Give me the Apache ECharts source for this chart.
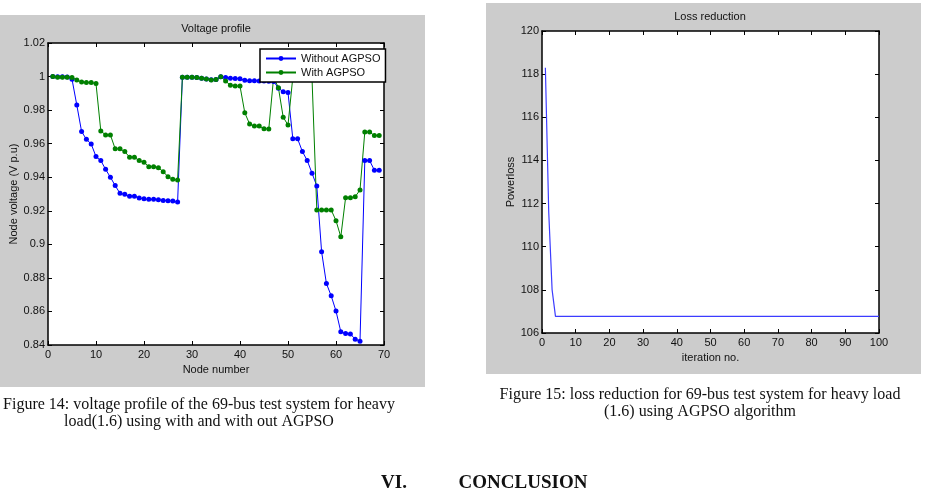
<!DOCTYPE html>
<html>
<head>
<meta charset="utf-8">
<script src="https://cdn.jsdelivr.net/npm/echarts@6/dist/echarts.min.js"></script>
<style>
  html, body { margin: 0; padding: 0; background: #fff; }
  #chart { width: 926px; height: 496px; }
</style>
</head>
<body>
<div id="chart"></div>
<script>
// node numbers of the 69-bus system
const nodes = [1, 2, 3, 4, 5, 6, 7, 8, 9, 10, 11, 12, 13, 14, 15, 16, 17, 18, 19, 20,
  21, 22, 23, 24, 25, 26, 27, 28, 29, 30, 31, 32, 33, 34, 35, 36, 37, 38, 39, 40,
  41, 42, 43, 44, 45, 46, 47, 48, 49, 50, 51, 52, 53, 54, 55, 56, 57, 58, 59, 60,
  61, 62, 63, 64, 65, 66, 67, 68, 69];
// voltage without AGPSO (p.u)
const withoutAgpso = [1.0, 0.9999, 0.9999, 0.9998, 0.9984, 0.983, 0.9672, 0.9626, 0.9598, 0.9523,
  0.9499, 0.9447, 0.940, 0.935, 0.9304, 0.9298, 0.9287, 0.9286, 0.9276, 0.9271,
  0.9268, 0.9268, 0.9266, 0.9261, 0.926, 0.9258, 0.9252, 0.9996, 0.9996, 0.9996,
  0.9994, 0.999, 0.9986, 0.9981, 0.9982, 0.9999, 0.9994, 0.999, 0.9988, 0.9987,
  0.9978, 0.9975, 0.9975, 0.9974, 0.9973, 0.9972, 0.9971, 0.9931, 0.991, 0.9905,
  0.963, 0.9629, 0.9553, 0.950, 0.9424, 0.9348, 0.8956, 0.8767, 0.8693, 0.8602,
  0.8479, 0.8469, 0.8465, 0.8435, 0.8423, 0.9499, 0.9499, 0.9442, 0.9442];
// voltage with AGPSO (p.u)
const withAgpso = [1.0, 0.9996, 0.9996, 0.9996, 0.9995, 0.998, 0.9968, 0.9964, 0.9964, 0.9958,
  0.9676, 0.9652, 0.9652, 0.9569, 0.9569, 0.9553, 0.9519, 0.9519, 0.9499, 0.9489,
  0.9463, 0.9463, 0.9457, 0.9433, 0.9403, 0.9388, 0.9384, 0.9996, 0.9996, 0.9996,
  0.9994, 0.999, 0.9986, 0.998, 0.9982, 0.9999, 0.9973, 0.9948, 0.9943, 0.9943,
  0.9784, 0.9717, 0.9705, 0.9705, 0.9689, 0.9688, 0.9995, 0.9934, 0.9758, 0.9711,
  0.9995, 0.9994, 0.9993, 0.9992, 0.9991, 0.9205, 0.9205, 0.9205, 0.9205, 0.9141,
  0.9045, 0.9278, 0.9278, 0.9284, 0.9324, 0.967, 0.967, 0.9648, 0.9648];

// iteration numbers and power loss
const iterations = [1, 2, 3, 4, 5, 6, 7, 8, 9, 10, 11, 12, 13, 14, 15, 16, 17, 18, 19, 20,
  21, 22, 23, 24, 25, 26, 27, 28, 29, 30, 31, 32, 33, 34, 35, 36, 37, 38, 39, 40,
  41, 42, 43, 44, 45, 46, 47, 48, 49, 50, 51, 52, 53, 54, 55, 56, 57, 58, 59, 60,
  61, 62, 63, 64, 65, 66, 67, 68, 69, 70, 71, 72, 73, 74, 75, 76, 77, 78, 79, 80,
  81, 82, 83, 84, 85, 86, 87, 88, 89, 90, 91, 92, 93, 94, 95, 96, 97, 98, 99, 100];
const powerLoss = [118.3, 111.6, 108.0, 106.77, 106.77, 106.77, 106.77, 106.77, 106.77, 106.77,
  106.77, 106.77, 106.77, 106.77, 106.77, 106.77, 106.77, 106.77, 106.77, 106.77,
  106.77, 106.77, 106.77, 106.77, 106.77, 106.77, 106.77, 106.77, 106.77, 106.77,
  106.77, 106.77, 106.77, 106.77, 106.77, 106.77, 106.77, 106.77, 106.77, 106.77,
  106.77, 106.77, 106.77, 106.77, 106.77, 106.77, 106.77, 106.77, 106.77, 106.77,
  106.77, 106.77, 106.77, 106.77, 106.77, 106.77, 106.77, 106.77, 106.77, 106.77,
  106.77, 106.77, 106.77, 106.77, 106.77, 106.77, 106.77, 106.77, 106.77, 106.77,
  106.77, 106.77, 106.77, 106.77, 106.77, 106.77, 106.77, 106.77, 106.77, 106.77,
  106.77, 106.77, 106.77, 106.77, 106.77, 106.77, 106.77, 106.77, 106.77, 106.77,
  106.77, 106.77, 106.77, 106.77, 106.77, 106.77, 106.77, 106.77, 106.77, 106.77];

const tickFont = '"Liberation Sans", Arial, sans-serif';
const serif = '"Liberation Serif", "DejaVu Serif", serif';

const pair = (xs, ys) => xs.map((x, i) => [x, ys[i]]);
const fmt = v => String(+v.toFixed(2));

// matplotlib-like axis helpers
function xAxisOf(grid, pos, min, max, interval, name) {
  return {
    type: 'value', gridIndex: grid, position: pos, min: min, max: max, interval: interval,
    name: name || '', nameLocation: 'middle', nameGap: 18,
    nameTextStyle: { color: '#111', fontSize: 11, fontFamily: tickFont },
    axisLine: { show: true, onZero: false, lineStyle: { color: '#000', width: 1.5 } },
    axisTick: { show: true, inside: true, length: 4, lineStyle: { color: '#000' } },
    axisLabel: { show: pos === 'bottom', color: '#111', fontSize: 11, fontFamily: tickFont, margin: 4 },
    splitLine: { show: false }
  };
}
function yAxisOf(grid, pos, min, max, interval, name, gap) {
  return {
    type: 'value', gridIndex: grid, position: pos, min: min, max: max, interval: interval,
    name: name || '', nameLocation: 'middle', nameGap: gap || 0,
    nameTextStyle: { color: '#111', fontSize: 11, fontFamily: tickFont },
    axisLine: { show: true, onZero: false, lineStyle: { color: '#000', width: 1.5 } },
    axisTick: { show: true, inside: true, length: 4, lineStyle: { color: '#000' } },
    axisLabel: { show: pos === 'left', color: '#111', fontSize: 11, fontFamily: tickFont, margin: 3, formatter: fmt },
    splitLine: { show: false }
  };
}

const myChart = echarts.init(document.getElementById('chart'));

const option = {
  backgroundColor: '#fff',
  animation: false,
  grid: [
    { left: 48, top: 43, width: 336, height: 302, show: true, backgroundColor: '#fff', borderWidth: 0 },
    { left: 542, top: 31, width: 337, height: 302, show: true, backgroundColor: '#fff', borderWidth: 0 }
  ],
  xAxis: [
    xAxisOf(0, 'bottom', 0, 70, 10, 'Node number'),
    xAxisOf(0, 'top', 0, 70, 10),
    xAxisOf(1, 'bottom', 0, 100, 10, 'iteration no.'),
    xAxisOf(1, 'top', 0, 100, 10)
  ],
  yAxis: [
    yAxisOf(0, 'left', 0.84, 1.02, 0.02, 'Node voltage (V p.u)', 26),
    yAxisOf(0, 'right', 0.84, 1.02, 0.02),
    yAxisOf(1, 'left', 106, 120, 2, 'Powerloss', 23),
    yAxisOf(1, 'right', 106, 120, 2)
  ],
  legend: {
    data: ['Without AGPSO', 'With AGPSO'],
    orient: 'vertical',
    left: 260,
    top: 49,
    itemWidth: 30,
    itemHeight: 6,
    itemGap: 3,
    padding: [4, 5, 4, 5],
    backgroundColor: '#fff',
    borderColor: '#000',
    borderWidth: 1.5,
    borderRadius: 0,
    textStyle: { color: '#111', fontSize: 11, fontFamily: tickFont }
  },
  series: [
    {
      name: 'Without AGPSO',
      type: 'line',
      xAxisIndex: 0, yAxisIndex: 0,
      data: pair(nodes, withoutAgpso),
      symbol: 'circle', symbolSize: 5,
      itemStyle: { color: '#0000ff' },
      lineStyle: { color: '#0000ff', width: 1 }
    },
    {
      name: 'With AGPSO',
      type: 'line',
      xAxisIndex: 0, yAxisIndex: 0,
      data: pair(nodes, withAgpso),
      symbol: 'circle', symbolSize: 5,
      itemStyle: { color: '#008000' },
      lineStyle: { color: '#008000', width: 1 }
    },
    {
      name: 'Power loss',
      type: 'line',
      xAxisIndex: 2, yAxisIndex: 2,
      data: pair(iterations, powerLoss),
      showSymbol: false,
      lineStyle: { color: '#3c3cff', width: 1.2 }
    }
  ],
  graphic: [
    { type: 'rect', z: -10, shape: { x: 0, y: 15, width: 425, height: 372 }, style: { fill: '#cccccc' } },
    { type: 'rect', z: -10, shape: { x: 486, y: 3, width: 435, height: 371 }, style: { fill: '#cccccc' } },
    { type: 'text', style: { x: 216, y: 29, text: 'Voltage profile', fill: '#111', font: '11px ' + tickFont, textAlign: 'center', textVerticalAlign: 'middle' } },
    { type: 'text', style: { x: 710, y: 17, text: 'Loss reduction', fill: '#111', font: '11px ' + tickFont, textAlign: 'center', textVerticalAlign: 'middle' } },
    { type: 'text', style: { x: 199, y: 405, text: 'Figure 14: voltage profile of the 69-bus test system for heavy', fill: '#111', font: '16px ' + serif, textAlign: 'center', textVerticalAlign: 'middle' } },
    { type: 'text', style: { x: 199, y: 422, text: 'load(1.6) using with and with out AGPSO', fill: '#111', font: '16px ' + serif, textAlign: 'center', textVerticalAlign: 'middle' } },
    { type: 'text', style: { x: 700, y: 395, text: 'Figure 15: loss reduction for 69-bus test system for heavy load', fill: '#111', font: '16px ' + serif, textAlign: 'center', textVerticalAlign: 'middle' } },
    { type: 'text', style: { x: 700, y: 412, text: '(1.6) using AGPSO algorithm', fill: '#111', font: '16px ' + serif, textAlign: 'center', textVerticalAlign: 'middle' } },
    { type: 'text', style: { x: 394, y: 483, text: 'VI.', fill: '#111', font: 'bold 19px ' + serif, textAlign: 'center', textVerticalAlign: 'middle' } },
    { type: 'text', style: { x: 523, y: 483, text: 'CONCLUSION', fill: '#111', font: 'bold 19px ' + serif, textAlign: 'center', textVerticalAlign: 'middle' } }
  ]
};

myChart.setOption(option);

window.addEventListener('resize', () => {
  myChart.resize();
});
</script>
</body>
</html>
